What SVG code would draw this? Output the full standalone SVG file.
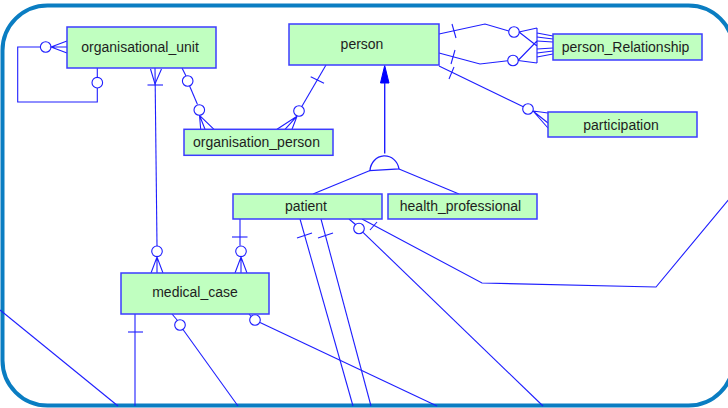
<svg xmlns="http://www.w3.org/2000/svg" width="728" height="408" viewBox="0 0 728 408">
  <style>
    .frame { fill: #ffffff; stroke: #0a7dc2; stroke-width: 4; }
    .node rect { fill: #c0ffc0; stroke: #3c3cff; stroke-width: 1.5; }
    .node text { font-family: "Liberation Sans", Arial, sans-serif; font-size: 14px; fill: #1e1e1e; text-anchor: middle; }
    .conn path, .conn line { fill: none; stroke: #1e1eff; stroke-width: 1.1; }
    .conn circle { fill: #ffffff; stroke: #1e1eff; stroke-width: 1.1; }
    .conn .gen { fill: #ffffff; stroke: #1e1eff; stroke-width: 1.3; }
    .conn .arrow { fill: #0000ff; stroke: #0000ff; stroke-width: 1; }
  </style>

  <!-- outer frame -->
  <rect class="frame" x="2.5" y="5.5" width="731" height="400" rx="45" ry="45"/>

  <!-- relationships -->
  <g id="connectors" class="conn">
    <!-- organisational_unit self reference -->
    <path d="M40.4,47 H17.7 V102 H97.3 V88"/>
    <path d="M97.3,77.4 V68"/>
    <circle cx="45.7" cy="47" r="5.3"/>
    <circle cx="97.3" cy="82.7" r="5.3"/>
    <path d="M67,41 L51,47 L67,53 M51,47 H67"/>

    <!-- organisational_unit to medical_case -->
    <path d="M155,68 L157,246"/>
    <path d="M150.5,69 L155,84 L161.5,69"/>
    <line x1="147.5" y1="85" x2="163" y2="85"/>
    <circle cx="157" cy="251.3" r="5.3"/>
    <path d="M151,273 L157,257 L163,273 M157,257 V273"/>

    <!-- organisational_unit to organisation_person -->
    <path d="M182,68 L186,76"/>
    <circle cx="187.7" cy="81" r="5.3"/>
    <path d="M189.6,86 L197.5,104.5"/>
    <circle cx="199.3" cy="110" r="5.3"/>
    <path d="M199.5,115.3 L200.7,129.3 M199.5,115.3 L205,129.3 M199.5,115.3 L214,129.3"/>

    <!-- person to organisation_person -->
    <path d="M326,65 L301.8,106.5"/>
    <line x1="310.7" y1="76.7" x2="324" y2="83.3"/>
    <circle cx="299" cy="111" r="5.3"/>
    <path d="M297,116.2 L277,129.3 M297,116.2 L285,129.3 M297,116.2 L292,129.3"/>

    <!-- generalisation person / patient / health_professional -->
    <polygon class="arrow" points="384.7,65.5 380.5,83 389,83"/>
    <line x1="384.7" y1="83" x2="384.7" y2="153.5" style="stroke-width:1.4"/>
    <path class="gen" d="M370,170.6 A14.6,15.5 0 0 1 399,169 Z"/>
    <line x1="370" y1="170.6" x2="313" y2="194"/>
    <line x1="399" y1="169" x2="459" y2="194"/>

    <!-- person to person_Relationship (two roles) -->
    <path d="M439,34 L485,24 L508.8,31"/>
    <line x1="452" y1="24" x2="456" y2="38"/>
    <circle cx="514" cy="32" r="5.3"/>
    <path d="M439,53 L480,64 L507.8,60.8"/>
    <line x1="455" y1="50" x2="451" y2="64"/>
    <circle cx="513" cy="60.5" r="5.3"/>
    <path d="M519,32 L537,28 M519,32 L537,46 M518,60.5 L537,63 M518,60.5 L537,41 M537,28 V63"/>
    <path d="M537,33 L553,36 M537,37 L553,39 M537,41 L553,42 M537,49 L553,48 M537,53 L553,51 M537,57 L553,54"/>

    <!-- person to participation -->
    <path d="M439,66 L523.3,106.8"/>
    <line x1="454" y1="67" x2="449" y2="79"/>
    <circle cx="528" cy="109" r="5.3"/>
    <path d="M533,111 L548,113 M533,111 L548,123 M533,111 L548,128"/>

    <!-- patient to medical_case -->
    <path d="M240,219 V245.7"/>
    <line x1="232" y1="237" x2="247.5" y2="237"/>
    <circle cx="241" cy="251.3" r="5.3"/>
    <path d="M235,273 L241,257 L247,273 M241,257 V273"/>

    <!-- patient relations leaving the view -->
    <path d="M300,219 L353,406"/>
    <line x1="297" y1="238" x2="312" y2="233"/>
    <path d="M321,219 L371,406"/>
    <line x1="318" y1="238" x2="333" y2="233"/>
    <path d="M349,219 L355.5,224.5"/>
    <circle cx="359" cy="228.5" r="5.3"/>
    <path d="M363,232.3 L543,406"/>
    <path d="M362,219 L482,283 L656,287 L730,198"/>
    <line x1="370" y1="230" x2="377" y2="222"/>

    <!-- medical_case relations leaving the view -->
    <path d="M135,314 V406"/>
    <line x1="128" y1="332" x2="143" y2="332"/>
    <path d="M172,314 L177.5,320.5"/>
    <circle cx="180" cy="325" r="5.3"/>
    <path d="M183,329.5 L238,406"/>
    <path d="M249,314 L251,316.5"/>
    <circle cx="255" cy="320" r="5.3"/>
    <path d="M260,322.5 L437,406"/>

    <!-- line entering from the left -->
    <path d="M0,310 L118,406"/>
  </g>

  <!-- entities -->
  <g id="organisational_unit" class="node">
    <rect x="67" y="27" width="149" height="41"/>
    <text x="140" y="52">organisational_unit</text>
  </g>
  <g id="person" class="node">
    <rect x="289" y="24" width="150" height="41"/>
    <text x="362" y="48.5">person</text>
  </g>
  <g id="person_Relationship" class="node">
    <rect x="553" y="34" width="149" height="26"/>
    <text x="625.5" y="52">person_Relationship</text>
  </g>
  <g id="participation" class="node">
    <rect x="548" y="112" width="149" height="25"/>
    <text x="621" y="129.5">participation</text>
  </g>
  <g id="organisation_person" class="node">
    <rect x="184" y="129.3" width="149" height="26"/>
    <text x="256.5" y="146.5">organisation_person</text>
  </g>
  <g id="patient" class="node">
    <rect x="233" y="194" width="149" height="25"/>
    <text x="306" y="211">patient</text>
  </g>
  <g id="health_professional" class="node">
    <rect x="388" y="194" width="149" height="25"/>
    <text x="460.5" y="211">health_professional</text>
  </g>
  <g id="medical_case" class="node">
    <rect x="121" y="273" width="148" height="41"/>
    <text x="195" y="297">medical_case</text>
  </g>
</svg>
